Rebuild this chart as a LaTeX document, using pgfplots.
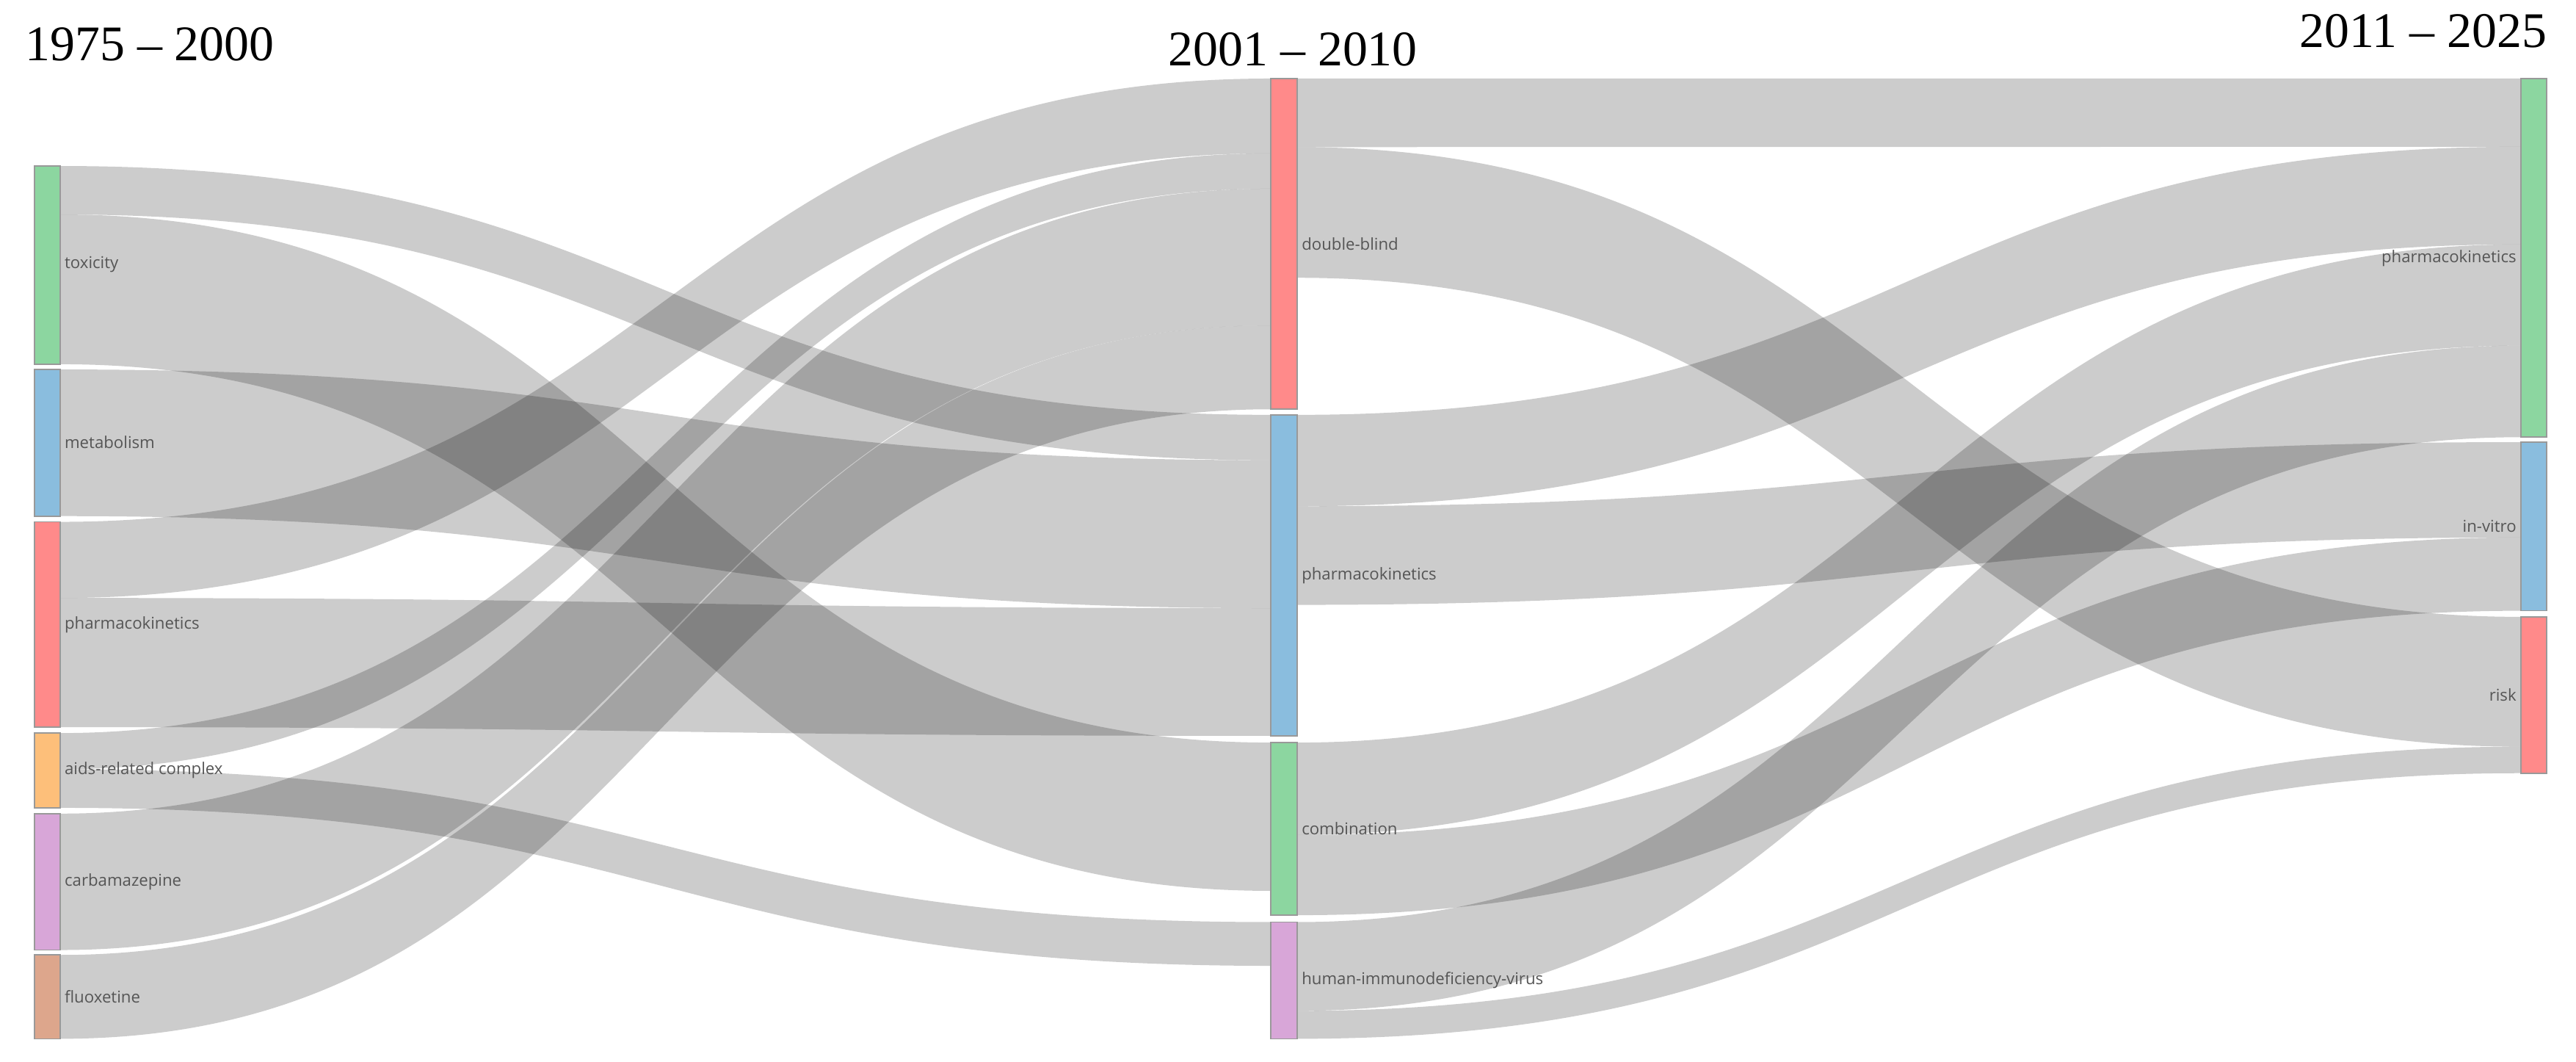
\documentclass[border=0pt]{standalone}
\usepackage{pgfplots}
\pgfplotsset{compat=1.18}
\usepackage{fontspec}
\setmainfont{Liberation Serif}
\newfontfamily\lab{Open Sans}

\definecolor{cgreen}{RGB}{140,214,160}
\definecolor{cblue}{RGB}{138,189,222}
\definecolor{cred}{RGB}{255,138,138}
\definecolor{corange}{RGB}{253,191,122}
\definecolor{cpurple}{RGB}{216,166,216}
\definecolor{cbrown}{RGB}{221,166,140}
\definecolor{labgray}{RGB}{85,85,85}

% band: x source, x target, x middle, source top, source bottom, target top, target bottom
\newcommand{\band}[7]{%
  \fill[black, fill opacity=0.2]
    (axis cs:#1,#4) .. controls (axis cs:#3,#4) and (axis cs:#3,#6) .. (axis cs:#2,#6)
    -- (axis cs:#2,#7) .. controls (axis cs:#3,#7) and (axis cs:#3,#5) .. (axis cs:#1,#5) -- cycle;}
% node box: x0, x1, y0, y1, colour
\newcommand{\nodebox}[5]{%
  \addplot[fill=#5, draw=black!40, line width=0.4pt] coordinates {(#1,#3) (#2,#3) (#2,#4) (#1,#4)} -- cycle;}

\begin{document}
\begin{tikzpicture}
\begin{axis}[
    width=30cm, height=12.36cm, scale only axis,
    xmin=0, xmax=1568, ymin=0, ymax=646, y dir=reverse,
    hide axis, clip=false
]
\path (axis cs:0,0) rectangle (axis cs:1568,646);

% 1975-2000 -> 2001-2010
\band{36.7}{773.5}{405.1}{101}{130.5}{252.4}{280}
\band{36.7}{773.5}{405.1}{130.5}{221.6}{451.8}{542}
\band{36.7}{773.5}{405.1}{224.8}{314}{280}{370}
\band{36.7}{773.5}{405.1}{317.5}{363.8}{47.8}{93.3}
\band{36.7}{773.5}{405.1}{363.8}{442.4}{370}{447.7}
\band{36.7}{773.5}{405.1}{446}{468}{93.3}{114.8}
\band{36.7}{773.5}{405.1}{468}{491.5}{561}{587.6}
\band{36.7}{773.5}{405.1}{495}{578}{114.8}{198}
\band{36.7}{773.5}{405.1}{581}{632}{198}{249}
% 2001-2010 -> 2011-2025
\band{789.5}{1534.4}{1162}{47.8}{89.5}{47.8}{89.3}
\band{789.5}{1534.4}{1162}{89.5}{169}{375.3}{454.3}
\band{789.5}{1534.4}{1162}{252.4}{308}{89.3}{148.7}
\band{789.5}{1534.4}{1162}{308}{368}{269}{327}
\band{789.5}{1534.4}{1162}{451.8}{508}{148.7}{210.3}
\band{789.5}{1534.4}{1162}{508}{556.8}{327}{371.6}
\band{789.5}{1534.4}{1162}{561}{615}{210.3}{266}
\band{789.5}{1534.4}{1162}{615}{632}{454.3}{470.4}

% nodes
\nodebox{21}{36.7}{101}{221.6}{cgreen}
\nodebox{21}{36.7}{224.8}{314}{cblue}
\nodebox{21}{36.7}{317.5}{442.4}{cred}
\nodebox{21}{36.7}{446}{491.5}{corange}
\nodebox{21}{36.7}{495}{578}{cpurple}
\nodebox{21}{36.7}{581}{632}{cbrown}
\nodebox{773.5}{789.5}{47.8}{249}{cred}
\nodebox{773.5}{789.5}{252.4}{447.7}{cblue}
\nodebox{773.5}{789.5}{451.8}{556.8}{cgreen}
\nodebox{773.5}{789.5}{561}{632}{cpurple}
\nodebox{1534.4}{1550}{47.8}{266}{cgreen}
\nodebox{1534.4}{1550}{269}{371.6}{cblue}
\nodebox{1534.4}{1550}{375.3}{470.4}{cred}

% labels
\begin{scope}[every node/.style={font=\lab\fontsize{5.4}{6.5}\selectfont, text=labgray, inner sep=0pt}]
\node[anchor=west] at (axis cs:39,161) {toxicity};
\node[anchor=west] at (axis cs:39,269) {metabolism};
\node[anchor=west] at (axis cs:39,380) {pharmacokinetics};
\node[anchor=west] at (axis cs:39,468.5) {aids-related complex};
\node[anchor=west] at (axis cs:39,536.5) {carbamazepine};
\node[anchor=west] at (axis cs:39,606.5) {fluoxetine};
\node[anchor=west] at (axis cs:792,148.5) {double-blind};
\node[anchor=west] at (axis cs:792,350) {pharmacokinetics};
\node[anchor=west] at (axis cs:792,504) {combination};
\node[anchor=west] at (axis cs:792,596.5) {human-immunodeficiency-virus};
\node[anchor=east] at (axis cs:1532,157) {pharmacokinetics};
\node[anchor=east] at (axis cs:1532,320) {in-vitro};
\node[anchor=east] at (axis cs:1532,423) {risk};
\end{scope}

% period titles
\begin{scope}[every node/.style={font=\fontsize{16.5}{20}\selectfont, inner sep=0pt}]
\node[anchor=base west] at (axis cs:15,37) {1975 -- 2000};
\node[anchor=base] at (axis cs:787,40) {2001 -- 2010};
\node[anchor=base east] at (axis cs:1550.5,29) {2011 -- 2025};
\end{scope}
\end{axis}
\end{tikzpicture}
\end{document}
